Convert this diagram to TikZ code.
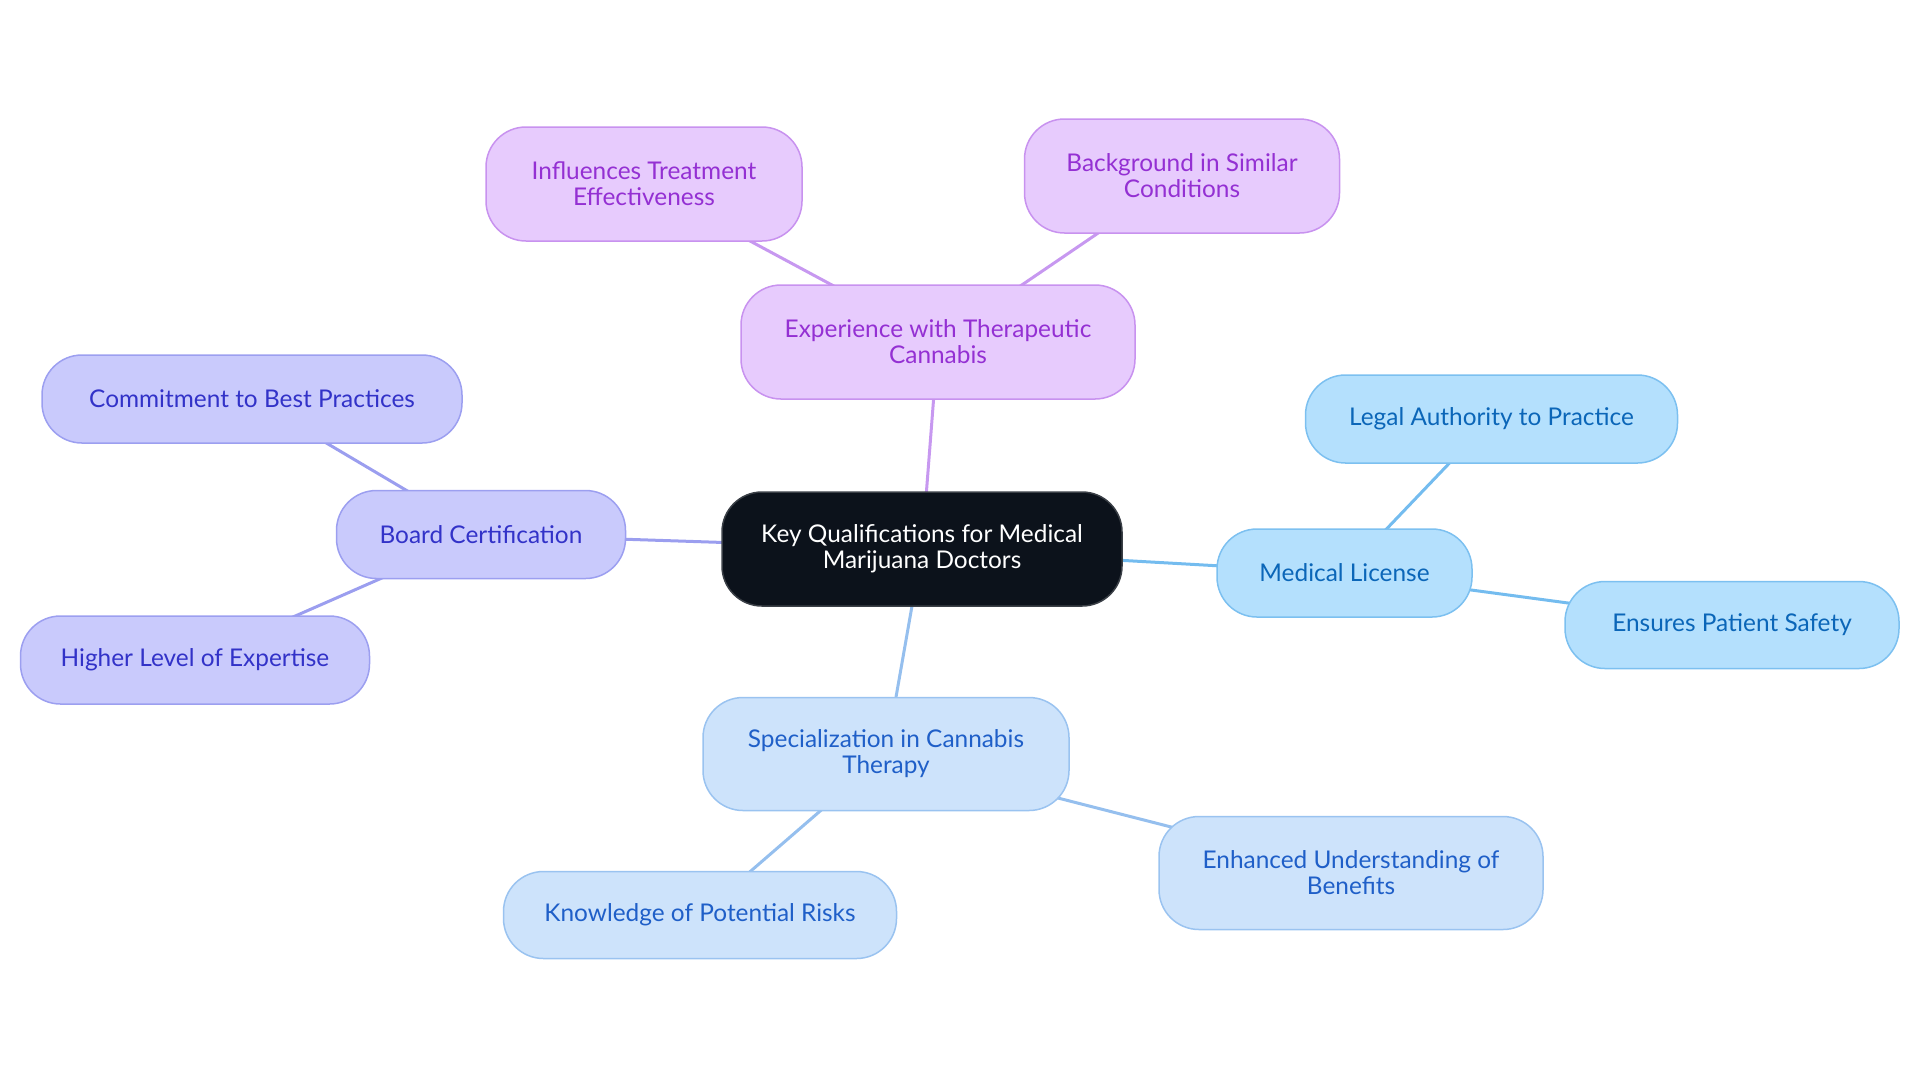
\documentclass[tikz,border=0pt]{standalone}
\usepackage{fontspec}
\setmainfont{Lato}
\usetikzlibrary{backgrounds}

\definecolor{rootfill}{HTML}{0C121B}
\definecolor{rootdraw}{HTML}{3A3F46}
\definecolor{purplefill}{HTML}{E7CBFD}
\definecolor{purpledraw}{HTML}{C892EF}
\definecolor{purpletext}{HTML}{9430D3}
\definecolor{purplelink}{HTML}{C798F0}
\definecolor{indigofill}{HTML}{C9CAFC}
\definecolor{indigodraw}{HTML}{9C9FF0}
\definecolor{indigotext}{HTML}{3232C8}
\definecolor{indigolink}{HTML}{9B9EEF}
\definecolor{skyfill}{HTML}{B4E0FD}
\definecolor{skydraw}{HTML}{7CC0F0}
\definecolor{skytext}{HTML}{0B66B8}
\definecolor{skylink}{HTML}{74BCEF}
\definecolor{bluefill}{HTML}{CDE3FB}
\definecolor{bluedraw}{HTML}{9AC3F0}
\definecolor{bluetext}{HTML}{1F5FC8}
\definecolor{bluelink}{HTML}{95BFEE}

\begin{document}
\begin{tikzpicture}[
            x=0.5pt, y=-0.5pt,
            box/.style={rounded corners=20pt, line width=0.75pt, align=center,
            inner sep=0pt, font=\fontsize{12.2}{13}\selectfont},
            root/.style={box, fill=rootfill, draw=rootdraw, text=white},
            purple node/.style={box, fill=purplefill, draw=purpledraw, text=purpletext},
            indigo node/.style={box, fill=indigofill, draw=indigodraw, text=indigotext},
            sky node/.style={box, fill=skyfill, draw=skydraw, text=skytext},
            blue node/.style={box, fill=bluefill, draw=bluedraw, text=bluetext},
            link/.style={line width=1.5pt}
            ]
            \useasboundingbox (0,0) rectangle (1920,1083);

            % root
            \node[root, minimum width=200pt, minimum height=57pt] (root) at (922,549)
                {Key Qualifications for Medical\\Marijuana Doctors};

            % experience
            \node[purple node, minimum width=197pt, minimum height=57pt] (exp) at (938,342)
                {Experience with Therapeutic\\Cannabis};
            \node[purple node, minimum width=158pt, minimum height=57pt] (infl) at (644,184)
                {Influences Treatment\\Effectiveness};
            \node[purple node, minimum width=157.5pt, minimum height=57pt] (backgr) at (1182,176)
                {Background in Similar\\Conditions};

            % board
            \node[indigo node, minimum width=144.5pt, minimum height=44pt] (board) at (481,534.5)
                {Board Certification};
            \node[indigo node, minimum width=210pt, minimum height=44pt] (commit) at (252,399)
                {Commitment to Best Practices};
            \node[indigo node, minimum width=174.5pt, minimum height=44pt] (higher) at (195,660)
                {Higher Level of Expertise};

            % license
            \node[sky node, minimum width=127.5pt, minimum height=44pt] (license) at (1344.5,573)
                {Medical License};
            \node[sky node, minimum width=186pt, minimum height=44pt] (legal) at (1491.5,419)
                {Legal Authority to Practice};
            \node[sky node, minimum width=167pt, minimum height=43.5pt] (safety) at (1732,625)
                {Ensures Patient Safety};

            % specialization
            \node[blue node, minimum width=183pt, minimum height=56.5pt] (spec) at (886,754)
                {Specialization in Cannabis\\Therapy};
            \node[blue node, minimum width=196.5pt, minimum height=43.5pt] (risks) at (700,915)
                {Knowledge of Potential Risks};
            \node[blue node, minimum width=192pt, minimum height=56.5pt] (benefits) at (1351,873)
                {Enhanced Understanding of\\Benefits};

            % links
            \begin{scope}[on background layer]
            \draw[link, purplelink] (root.center) -- (exp.center);
            \draw[link, purplelink] (exp.center) -- (infl.center);
            \draw[link, purplelink] (exp.center) -- (backgr.center);
            \draw[link, indigolink] (root.center) -- (board.center);
            \draw[link, indigolink] (board.center) -- (commit.center);
            \draw[link, indigolink] (board.center) -- (higher.center);
            \draw[link, skylink] (root.center) -- (license.center);
            \draw[link, skylink] (license.center) -- (legal.center);
            \draw[link, skylink] (license.center) -- (safety.center);
            \draw[link, bluelink] (root.center) -- (spec.center);
            \draw[link, bluelink] (spec.center) -- (risks.center);
            \draw[link, bluelink] (spec.center) -- (benefits.center);
            \end{scope}

        \end{tikzpicture}
\end{document}
